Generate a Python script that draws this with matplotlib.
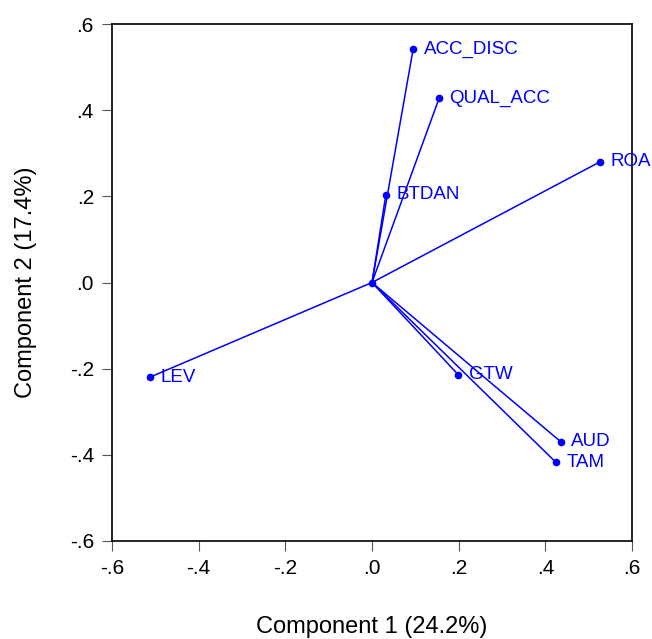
import matplotlib.pyplot as plt
import numpy as np

# 载荷数据
names = ['ACC_DISC', 'QUAL_ACC', 'ROA', 'BTDAN', 'LEV', 'GTW', 'AUD', 'TAM']
comp1 = [0.095, 0.155, 0.526, 0.032, -0.513, 0.199, 0.436, 0.424]
comp2 = [0.542, 0.428, 0.280, 0.204, -0.220, -0.214, -0.370, -0.417]
ticks = [-0.6, -0.4, -0.2, 0.0, 0.2, 0.4, 0.6]

plt.rcParams['font.family'] = ['Liberation Sans', 'DejaVu Sans']

fig = plt.figure(figsize=(6.52, 6.39), dpi=100)
ax = fig.add_axes([0.1718, 0.1534, 0.7975, 0.809])

blue = '#0000ff'
for n, x, y in zip(names, comp1, comp2):
    ax.plot([0, x], [0, y], color=blue, linewidth=1.1)
    ax.plot(x, y, 'o', color=blue, markersize=4.5)
    ax.annotate(n, (x, y), xytext=(7.5, 0), textcoords='offset points',
                color=blue, fontsize=13.5, va='center', ha='left')
ax.plot(0, 0, 'o', color=blue, markersize=4.5)

ax.set_xlim(-0.6, 0.6)
ax.set_ylim(-0.6, 0.6)

def fmt(v):
    s = f"{v:.1f}"
    return s.replace('0.', '.')

ax.set_xticks(ticks)
ax.set_xticklabels([fmt(t) for t in ticks], fontsize=15)
ax.set_yticks(ticks)
ax.set_yticklabels([fmt(t) for t in ticks], fontsize=15)
ax.tick_params(direction='out', length=7, width=0.8, pad=6,
               colors='#555555', labelcolor='black')

ax.set_xlabel('Component 1 (24.2%)', fontsize=17)
ax.set_ylabel('Component 2 (17.4%)', fontsize=17)
ax.xaxis.set_label_coords(0.5, -0.145)
ax.yaxis.set_label_coords(-0.144, 0.5)

for s in ax.spines.values():
    s.set_linewidth(1.2)

plt.savefig('out.png', dpi=100)
